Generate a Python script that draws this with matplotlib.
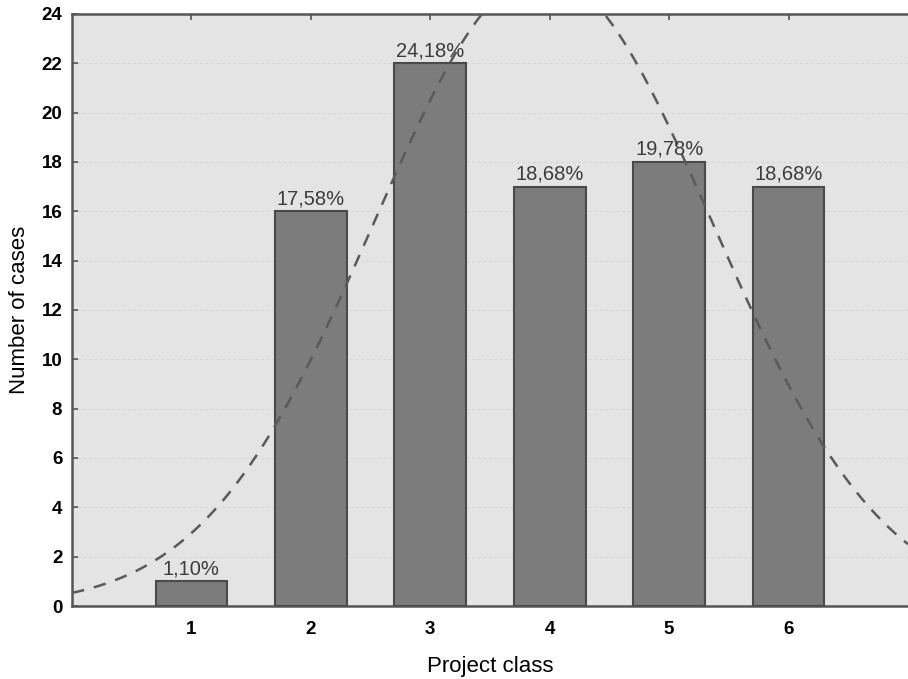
import numpy as np
import matplotlib
matplotlib.use("Agg")
import matplotlib.pyplot as plt

# project classes and number of cases per class
classes = [1, 2, 3, 4, 5, 6]
cases = [1, 16, 22, 17, 18, 17]
pct_labels = ["1,10%", "17,58%", "24,18%", "18,68%", "19,78%", "18,68%"]
y_ticks = list(range(0, 25, 2))

plt.rcParams['font.family'] = ['Liberation Sans', 'DejaVu Sans']

fig = plt.figure(figsize=(9.08, 6.79), dpi=100)
ax = fig.add_axes([0.0793, 0.1075, 0.9207, 0.8720])
ax.set_facecolor('#e4e4e4')

bars = ax.bar(classes, cases, width=0.6, color='#7c7c7c', edgecolor='#4a4a4a',
              linewidth=1.5, zorder=3)

# percentage labels on top of each bar
for b, lab in zip(bars, pct_labels):
    ax.text(b.get_x() + b.get_width() / 2, b.get_height() + 0.12, lab,
            ha='center', va='bottom', fontsize=14.5, color='#3c3c3c', zorder=5)

# fitted normal curve (from the counts above)
x = np.array(classes, dtype=float)
w = np.array(cases, dtype=float)
n = w.sum()
mu = (x * w).sum() / n
sd = np.sqrt(((x - mu) ** 2 * w).sum() / (n - 1))
xs = np.linspace(0, 7, 300)
ys = n * np.exp(-0.5 * ((xs - mu) / sd) ** 2) / (sd * np.sqrt(2 * np.pi))
ax.plot(xs, ys, linestyle=(0, (5, 4)), color='#5a5a5a', linewidth=1.8, zorder=4)

ax.set_xlim(0, 7)
ax.set_ylim(0, 24)
ax.set_xticks(classes)
ax.set_yticks(y_ticks)
ax.tick_params(axis='both', labelsize=13.5, length=4, color='#555555', width=1.2,
               direction='in')
for t in ax.get_xticklabels() + ax.get_yticklabels():
    t.set_fontweight('bold')
ax.tick_params(axis='x', pad=11, top=True)
ax.tick_params(axis='y', pad=7)

ax.yaxis.grid(True, linestyle=(0, (2, 3)), color='#d2d2d2', linewidth=0.8, zorder=0)
ax.set_axisbelow(True)

for s in ['left', 'bottom', 'top']:
    ax.spines[s].set_color('#555555')
    ax.spines[s].set_linewidth(1.8)
ax.spines['right'].set_visible(False)

ax.set_xlabel("Project class", fontsize=16, labelpad=13)
ax.set_ylabel("Number of cases", fontsize=16, labelpad=8)

fig.savefig("out.png", dpi=100)
